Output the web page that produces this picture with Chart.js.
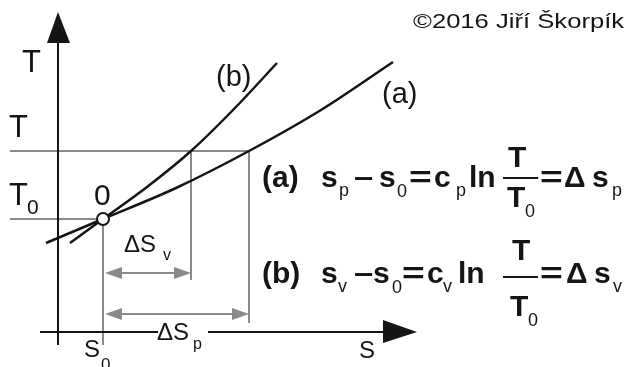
<!DOCTYPE html>
<html>
<head>
<meta charset="utf-8">
<script src="https://cdn.jsdelivr.net/npm/chart.js@4.4.1/dist/chart.umd.min.js"></script>
<style>
  html, body { margin: 0; padding: 0; background: #fff; overflow: hidden; }
  canvas { display: block; }
</style>
</head>
<body>
<canvas id="ts" width="634" height="367"></canvas>
<script>
// T-s diagram: isobar (a) and isochore (b) through the state 0
const curveA_s = [-1.2, 4.5, 11.8, 19.1, 26.3, 33.5];
const curveA_T = [8.9, 11.3, 14.4, 18.1, 22.2, 27.0];
const curveB_s = [1.2, 4.5, 8.9, 13.3, 17.6, 21.9];
const curveB_T = [8.9, 11.3, 14.5, 18.1, 22.3, 26.9];

const s0 = 4.5, T0 = 11.3, T1 = 18.1;
const sV = 13.3, sP = 19.1;          // where (b) and (a) reach T
const arrowV_T = 5.9, arrowP_T = 1.8; // heights of the delta-s arrows
const guideStart = -4.8;             // left end of the T, T0 guides
const dropV = 5.2, dropP = 0.9, dropS0 = -1.3;

// axis extents (data units) and the visible window
const axisS = [-1.8, 35.9], axisT = [-1.3, 32];
const sMin = -5.8, sMax = 57.6, TMin = -3.5, TMax = 33.2;

const INK = '#151515', GREY = '#8a8a8a';

const pts = (xs, ys) => xs.map((x, i) => ({ x: x, y: ys[i] }));
const seg = (x1, y1, x2, y2) => [{ x: x1, y: y1 }, { x: x2, y: y2 }];

function guide(data) {
  return { data: data, borderColor: GREY, borderWidth: 2, pointRadius: 0, order: 3 };
}

function txt(ctx, str, x, y, font, sx) {
  ctx.save();
  ctx.font = font;
  ctx.translate(x, y);
  ctx.scale(sx || 1, 1);
  ctx.fillText(str, 0, 0);
  ctx.restore();
}

function arrowHead(ctx, x, y, dir) {
  ctx.beginPath();
  ctx.moveTo(x, y);
  ctx.lineTo(x - dir * 17, y - 6);
  ctx.lineTo(x - dir * 17, y + 6);
  ctx.closePath();
  ctx.fill();
}

const diagram = {
  id: 'diagram',
  afterDatasetsDraw(chart) {
    const ctx = chart.ctx;
    const X = v => chart.scales.x.getPixelForValue(v);
    const Y = v => chart.scales.y.getPixelForValue(v);
    ctx.save();

    // delta-s arrows
    ctx.strokeStyle = GREY; ctx.fillStyle = GREY; ctx.lineWidth = 2;
    [[sV, arrowV_T], [sP, arrowP_T]].forEach(([s, t]) => {
      const y = Y(t);
      ctx.beginPath(); ctx.moveTo(X(s0) + 8, y); ctx.lineTo(X(s) - 8, y); ctx.stroke();
      arrowHead(ctx, X(s0) + 2, y, -1);
      arrowHead(ctx, X(s), y, 1);
    });

    // axes with arrow tips; the s axis is broken around the delta-s_p label
    ctx.strokeStyle = INK; ctx.fillStyle = INK; ctx.lineWidth = 2;
    const ox = X(0), oy = Y(0);
    ctx.beginPath();
    ctx.moveTo(ox, Y(axisT[0])); ctx.lineTo(ox, Y(axisT[1]) + 20);
    ctx.moveTo(X(axisS[0]), oy); ctx.lineTo(X(10.0), oy);
    ctx.moveTo(X(15.0), oy); ctx.lineTo(X(axisS[1]) - 20, oy);
    ctx.stroke();
    ctx.beginPath();
    ctx.moveTo(ox, Y(axisT[1]));
    ctx.lineTo(ox - 11, Y(axisT[1]) + 31);
    ctx.lineTo(ox + 12, Y(axisT[1]) + 31);
    ctx.closePath(); ctx.fill();
    ctx.beginPath();
    ctx.moveTo(X(axisS[1]), oy);
    ctx.lineTo(X(axisS[1]) - 34, oy - 12);
    ctx.lineTo(X(axisS[1]) - 34, oy + 11);
    ctx.closePath(); ctx.fill();

    // labels
    const R = n => n + 'px "Liberation Sans", Arial, sans-serif';
    ctx.textBaseline = 'alphabetic';
    txt(ctx, 'T', 22, 72, R(31));
    txt(ctx, 'T', 9, Y(T1) - 14, R(31));
    txt(ctx, 'T', 9, Y(T0) - 14, R(31));
    txt(ctx, '0', 27, Y(T0) - 5, R(21));
    txt(ctx, '0', X(s0) - 9, Y(T0) - 14, R(30));
    txt(ctx, '(b)', 216, 86, R(29));
    txt(ctx, '(a)', 382, 103, R(29));
    txt(ctx, '\u0394S', X(s0) + 21, Y(arrowV_T) - 21, R(24));
    txt(ctx, 'v', X(s0) + 60, Y(arrowV_T) - 13, R(16));
    txt(ctx, '\u0394S', 157, oy + 8, R(24));
    txt(ctx, 'p', 193, oy + 17, R(16));
    txt(ctx, 'S', X(s0) - 19, 357, R(24));
    txt(ctx, '0', X(s0) - 2, 370, R(17));
    txt(ctx, 'S', 359, 358, R(24));
    txt(ctx, '\u00a92016 Ji\u0159\u00ed \u0160korp\u00edk', 413, 28, R(21), 1.22);

    // the two relations
    const B = n => 'bold ' + n + 'px "Liberation Sans", Arial, sans-serif';
    function relation(base, lab, sub, o) {
      txt(ctx, lab, 262, base, B(30));
      txt(ctx, 's', o[0], base, B(30));
      txt(ctx, sub, o[1], base + 9, R(18));
      txt(ctx, '\u2013', o[2] - 1, base, B(30), 1.15);
      txt(ctx, 's', o[3], base, B(30));
      txt(ctx, '0', o[4], base + 10, R(18));
      txt(ctx, '=', o[5], base, B(30), 1.3);
      txt(ctx, 'c', o[6], base, B(30));
      txt(ctx, sub, o[7], base + 9, R(18));
      txt(ctx, 'ln', o[8], base, B(30));
      txt(ctx, 'T', o[9], o[10], B(30));
      ctx.fillRect(503, o[11] - 1, 35, 2);
      txt(ctx, 'T', o[12], o[13], B(30));
      txt(ctx, '0', o[12] + 18, o[13] + 10, R(18));
      txt(ctx, '=', 540, base, B(30), 1.3);
      txt(ctx, '\u0394', o[14], base, B(30));
      txt(ctx, 's', o[15], base, B(30));
      txt(ctx, sub, o[16], base + 9, R(18));
    }
    relation(187, '(a)', 'p',
      [321, 339, 355, 379, 397, 409, 434, 456, 469, 508, 167, 178, 507, 207, 564, 592, 612]);
    relation(283, '(b)', 'v',
      [321, 338, 355, 373, 392, 402, 427, 443, 458, 512, 260, 277, 510, 316, 566, 594, 613]);

    ctx.restore();
  }
};

new Chart(document.getElementById('ts'), {
  type: 'line',
  data: {
    datasets: [
      { data: pts([s0], [T0]), showLine: false, pointRadius: 6,
        pointBackgroundColor: '#fff', pointBorderColor: INK, pointBorderWidth: 2, order: 0 },
      { label: '(a)', data: pts(curveA_s, curveA_T), borderColor: INK, borderWidth: 2.5,
        pointRadius: 0, cubicInterpolationMode: 'monotone', order: 1 },
      { label: '(b)', data: pts(curveB_s, curveB_T), borderColor: INK, borderWidth: 2.5,
        pointRadius: 0, cubicInterpolationMode: 'monotone', order: 1 },
      guide(seg(guideStart, T1, sP, T1)),
      guide(seg(guideStart, T0, s0, T0)),
      guide(seg(s0, T0, s0, dropS0)),
      guide(seg(sV, T1, sV, dropV)),
      guide(seg(sP, T1, sP, dropP))
    ]
  },
  options: {
    responsive: false,
    animation: false,
    events: [],
    layout: { padding: 0, autoPadding: false },
    plugins: { legend: { display: false }, tooltip: { enabled: false } },
    scales: {
      x: { type: 'linear', display: false, min: sMin, max: sMax },
      y: { type: 'linear', display: false, min: TMin, max: TMax }
    }
  },
  plugins: [diagram]
});
</script>
</body>
</html>
